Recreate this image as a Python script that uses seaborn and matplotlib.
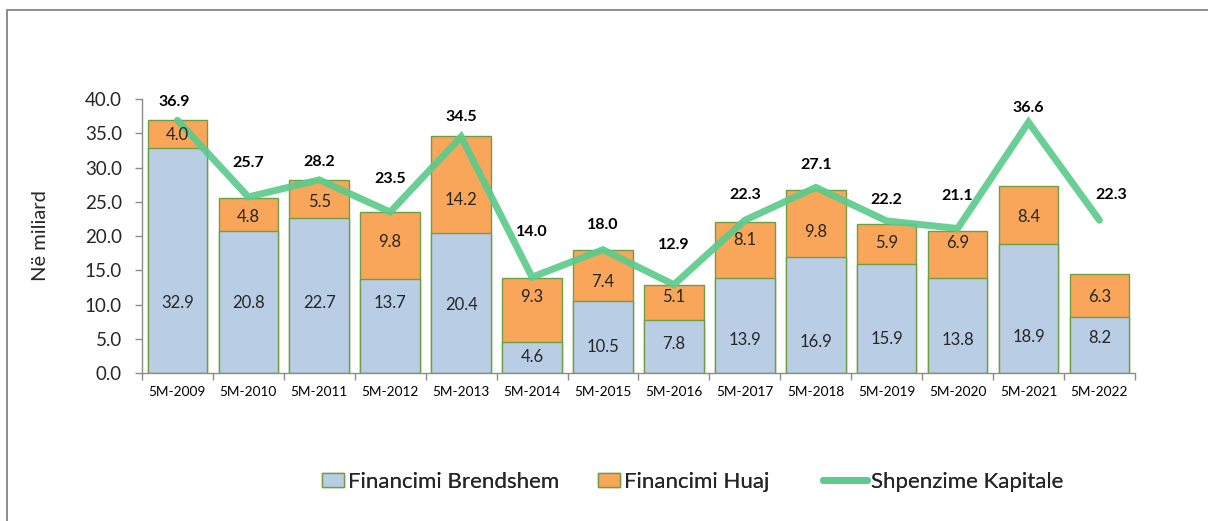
import numpy as np
import pandas as pd
import matplotlib
matplotlib.use("Agg")
import matplotlib.pyplot as plt
import seaborn as sns
from matplotlib.patches import Patch
from matplotlib.lines import Line2D
from matplotlib.ticker import FixedLocator

# data
periods = ["5M-2009", "5M-2010", "5M-2011", "5M-2012", "5M-2013", "5M-2014", "5M-2015",
           "5M-2016", "5M-2017", "5M-2018", "5M-2019", "5M-2020", "5M-2021", "5M-2022"]
brendshem = [32.9, 20.8, 22.7, 13.7, 20.4, 4.6, 10.5, 7.8, 13.9, 16.9, 15.9, 13.8, 18.9, 8.2]
huaj = [4.0, 4.8, 5.5, 9.8, 14.2, 9.3, 7.4, 5.1, 8.1, 9.8, 5.9, 6.9, 8.4, 6.3]
kapitale = [36.9, 25.7, 28.2, 23.5, 34.5, 14.0, 18.0, 12.9, 22.3, 27.1, 22.2, 21.1, 36.6, 22.3]

# where the labels sit (as in the original, placed by hand)
brendshem_lbl_y = [10.2, 10.2, 10.2, 10.2, 9.9, 2.3, 3.8, 4.2, 4.8, 4.6, 5.0, 4.8, 5.3, 5.1]
huaj_lbl_y = [34.7, 22.8, 25.0, 19.1, 25.3, 11.1, 13.3, 11.1, 19.4, 20.6, 19.0, 19.0, 22.8, 11.1]
kapitale_lbl_y = [39.6, 30.7, 30.8, 28.3, 37.4, 20.6, 21.6, 18.7, 26.0, 30.4, 25.3, 25.8, 38.7, 26.0]
kapitale_lbl_dx = [-0.05, 0, 0, 0, 0, 0, 0, 0, 0, 0, 0, 0, 0, 0.17]

df = pd.DataFrame({"period": periods, "brendshem": brendshem, "huaj": huaj, "kapitale": kapitale})
df["stack"] = df["brendshem"] + df["huaj"]

BLUE = "#B9CDE5"
ORANGE = "#F9A65A"
EDGE = "#6E9F45"
LINE = "#5CCB8C"
GRAY = "#8C8C8C"
FONT = ["Lato", "DejaVu Sans"]

sns.set_style("white")
plt.rcParams["font.family"] = FONT

fig = plt.figure(figsize=(12.08, 5.21), dpi=100)
ax = fig.add_axes([0.1175, 0.284, 0.822, 0.526])

# stacked look: total in orange, domestic part drawn over it in blue
sns.barplot(data=df, x="period", y="stack", color=ORANGE, saturation=1, width=0.84,
            edgecolor=EDGE, linewidth=1.0, ax=ax)
sns.barplot(data=df, x="period", y="brendshem", color=BLUE, saturation=1, width=0.84,
            edgecolor=EDGE, linewidth=1.0, ax=ax)
pos = np.arange(len(periods))
sns.lineplot(x=pos, y=df["kapitale"], color=LINE, linewidth=5, alpha=0.92,
             solid_capstyle="round", solid_joinstyle="miter", ax=ax)

for i in range(len(periods)):
    ax.text(pos[i], brendshem_lbl_y[i], f"{brendshem[i]:.1f}", ha="center", va="center",
            fontsize=12, color="#262626")
    ax.text(pos[i], huaj_lbl_y[i], f"{huaj[i]:.1f}", ha="center", va="center",
            fontsize=12, color="#262626")
    ax.text(pos[i] + kapitale_lbl_dx[i], kapitale_lbl_y[i], f"{kapitale[i]:.1f}",
            ha="center", va="center", fontsize=11.5, fontweight="bold", color="black")

ax.set_xlim(-0.5, len(periods) - 0.5)
ax.set_ylim(0, 40)
ax.set_yticks(np.arange(0, 40.1, 5))
ax.set_yticklabels([f"{v:.1f}" for v in np.arange(0, 40.1, 5)], fontsize=13.5)
ax.set_xticks(pos)
ax.set_xticklabels(periods, fontsize=9.8)
ax.xaxis.set_minor_locator(FixedLocator(np.arange(-0.5, len(periods), 1.0)))
ax.tick_params(axis="x", which="major", length=0, pad=9, colors="black")
ax.tick_params(axis="x", which="minor", length=5, width=1, color=GRAY, direction="out", bottom=True)
ax.tick_params(axis="y", length=5, width=1, color=GRAY, direction="out", pad=9.4, left=True)
ax.set_xlabel("")
ax.set_ylabel("Në miliard", fontsize=14.5)
ax.yaxis.set_label_coords(-0.094, 0.5)

for side in ["top", "right"]:
    ax.spines[side].set_visible(False)
for side in ["left", "bottom"]:
    ax.spines[side].set_color(GRAY)
    ax.spines[side].set_linewidth(1)
ax.grid(False)

# legend entries placed one by one, like the original
entries = [
    (Patch(facecolor=BLUE, edgecolor=EDGE, linewidth=1), "Financimi Brendshem", 322, 1.0),
    (Patch(facecolor=ORANGE, edgecolor=EDGE, linewidth=1), "Financimi Huaj", 598, 1.0),
    (Line2D([0], [0], color=LINE, linewidth=5, solid_capstyle="round"), "Shpenzime Kapitale", 823, 2.0),
]
for handle, text, x_px, hl in entries:
    leg = fig.legend([handle], [text], loc="center left", bbox_to_anchor=(x_px / 1208, 0.075),
                     frameon=False, fontsize=16, handlelength=hl, handleheight=0.6,
                     handletextpad=0.15, borderpad=0, borderaxespad=0)
    fig.add_artist(leg)

# outer frame
fig.add_artist(Line2D([7 / 1208, 7 / 1208], [0, 1 - 10 / 521], transform=fig.transFigure,
                      color=GRAY, linewidth=1.4))
fig.add_artist(Line2D([7 / 1208, 1], [1 - 10 / 521, 1 - 10 / 521], transform=fig.transFigure,
                      color=GRAY, linewidth=1.4))

fig.savefig("out.png", dpi=100)
